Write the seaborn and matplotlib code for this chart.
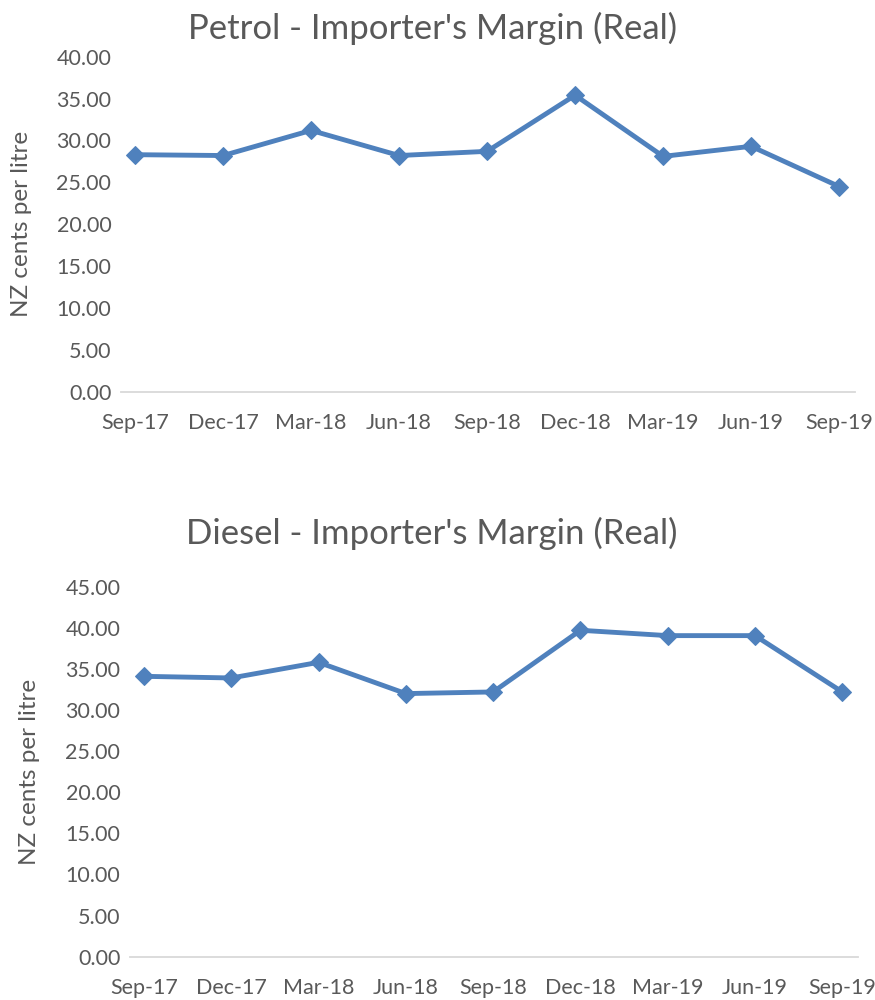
import matplotlib
matplotlib.use("Agg")
import matplotlib.pyplot as plt
import numpy as np
import pandas as pd
import seaborn as sns

quarters = ["Sep-17", "Dec-17", "Mar-18", "Jun-18", "Sep-18",
            "Dec-18", "Mar-19", "Jun-19", "Sep-19"]
petrol = [28.3, 28.2, 31.2, 28.2, 28.7, 35.4, 28.1, 29.3, 24.5]
diesel = [34.1, 33.9, 35.8, 32.0, 32.2, 39.7, 39.05, 39.05, 32.2]

LINE = "#4F81BD"
TEXT = "#595959"
AXIS = "#D9D9D9"

sns.set_theme(style="white")
plt.rcParams["font.family"] = ["Lato", "DejaVu Sans"]

fig = plt.figure(figsize=(8.75, 10), dpi=100)


def panel(rect, values, ymax, title, title_y, ylabel_x):
    ax = fig.add_axes(rect)
    df = pd.DataFrame({"pos": np.arange(len(quarters)), "value": values})
    sns.lineplot(data=df, x="pos", y="value", ax=ax, color=LINE, linewidth=3.5,
                 marker="D", markersize=9.5, markeredgecolor=LINE)
    ax.set_xlim(-0.16, 8.18)
    ax.set_ylim(0, ymax)
    ax.set_yticks(np.arange(0, ymax + 0.1, 5))
    ax.set_yticklabels([f"{v:.2f}" for v in np.arange(0, ymax + 0.1, 5)])
    ax.set_xticks(range(len(quarters)))
    ax.set_xticklabels(quarters)
    ax.set_xticks(np.arange(len(quarters)) - 0.16, minor=True)
    ax.tick_params(axis="x", which="major", length=0, pad=15, labelsize=15.5, colors=TEXT)
    ax.tick_params(axis="x", which="minor", length=6, width=1.2, color=AXIS, direction="out")
    ax.tick_params(axis="y", length=0, pad=7, labelsize=15.5, colors=TEXT)
    for s in ["top", "right", "left"]:
        ax.spines[s].set_visible(False)
    ax.spines["bottom"].set_color(AXIS)
    ax.spines["bottom"].set_linewidth(1.3)
    ax.set_xlabel("")
    ax.set_ylabel("")
    fig.text(0.494, title_y, title, ha="center", va="center", fontsize=25, color=TEXT)
    bb = ax.get_position()
    fig.text(ylabel_x, (bb.y0 + bb.y1) / 2, "NZ cents per litre", rotation=90,
             ha="center", va="center", fontsize=17.5, color=TEXT)
    return ax


panel([0.1383, 0.6083, 0.8388, 0.335], petrol, 40,
      "Petrol - Importer's Margin (Real)", 0.972, 0.025)
panel([0.1486, 0.0433, 0.832, 0.37], diesel, 45,
      "Diesel - Importer's Margin (Real)", 0.467, 0.034)

fig.savefig("out.png", dpi=100)
